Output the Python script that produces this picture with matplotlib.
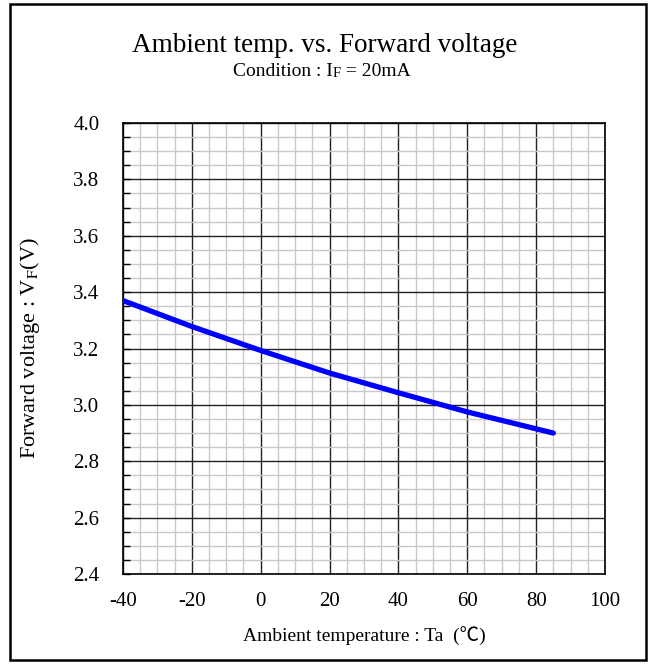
import numpy as np
import matplotlib
matplotlib.use("Agg")
import matplotlib.pyplot as plt
from matplotlib.patches import Rectangle
from matplotlib.ticker import MultipleLocator

plt.rcParams['font.family'] = ['Liberation Serif', 'Noto Sans CJK JP', 'DejaVu Sans']
plt.rcParams['mathtext.fontset'] = 'stix'

# data
temp = [-40, -20, 0, 20, 40, 60, 85]
vf = [3.370, 3.278, 3.193, 3.113, 3.043, 2.975, 2.900]

x_ticks = [-40, -20, 0, 20, 40, 60, 80, 100]
y_ticks = [2.4, 2.6, 2.8, 3.0, 3.2, 3.4, 3.6, 3.8, 4.0]

W, H = 651, 664
fig = plt.figure(figsize=(W / 100, H / 100), dpi=100)
ax = fig.add_axes([123 / W, 1 - 574 / H, (605 - 123) / W, (574 - 123) / H])

# outer frame
fig.patches.append(Rectangle((10 / W, 4 / H), 636 / W, 656 / H, transform=fig.transFigure,
                             fill=False, edgecolor='black', linewidth=1.8))

ax.plot(temp, vf, color='#0000ff', linewidth=3.8, solid_capstyle='round', zorder=5)

ax.set_xlim(-40, 100)
ax.set_ylim(2.4, 4.0)
ax.set_xticks(x_ticks)
ax.set_yticks(y_ticks)
ax.set_xticklabels([str(t) for t in x_ticks])
ax.set_yticklabels([f"{t:.1f}" for t in y_ticks])
ax.xaxis.set_minor_locator(MultipleLocator(5))
ax.yaxis.set_minor_locator(MultipleLocator(0.05))

ax.grid(which='minor', color='#c8c8c8', linewidth=1.0)
ax.grid(which='major', color='#222222', linewidth=1.0)
ax.set_axisbelow(True)

ax.tick_params(axis='both', which='major', direction='in', length=5, width=1, labelsize=15)
ax.tick_params(axis='y', which='major', pad=17)
ax.tick_params(axis='x', which='major', length=0, pad=13)
ax.tick_params(axis='x', which='minor', length=0)
ax.tick_params(axis='y', which='minor', direction='in', length=5, width=1)
for s in ax.spines.values():
    s.set_linewidth(1.2)

ax.set_xlabel("Ambient temperature : Ta  (℃)", fontsize=14, va='center')
ax.xaxis.set_label_coords(0.5, (574 - 636) / 451)
ax.set_ylabel("Forward voltage : V$_{\\mathrm{F}}$(V)", fontsize=16, va='center')
ax.yaxis.set_label_coords((30 - 123) / 482, 0.5)

fig.text(325 / W, 1 - 45 / H, "Ambient temp. vs. Forward voltage", ha='center', va='center', fontsize=19.5)

t1 = fig.text(233 / W, 1 - 76 / H, "Condition : I", ha='left', va='baseline', fontsize=14)
t2 = ax.annotate("F", xy=(1, 0), xycoords=t1, ha='left', va='bottom', fontsize=10.5)
t3 = ax.annotate(" = 20mA", xy=(1, 0), xycoords=t2, ha='left', va='bottom', fontsize=14)

fig.savefig("out.png", dpi=100)
